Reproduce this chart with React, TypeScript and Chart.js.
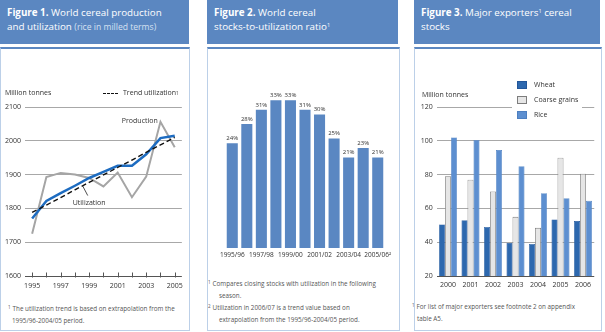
import React, { useEffect, useRef } from 'react';
import { Chart, registerables } from 'chart.js';

Chart.register(...registerables);

const FONT = "'Open Sans', sans-serif";

// ---------- Figure 1 data ----------
const years = ['1995', '1996', '1997', '1998', '1999', '2000', '2001', '2002', '2003', '2004', '2005'];
const production = [1725, 1893, 1905, 1900, 1890, 1865, 1906, 1833, 1894, 2056, 1981];
const utilization = [1770, 1822, 1845, 1867, 1890, 1908, 1926, 1926, 1960, 2008, 2015];
const trendUtilization = [1788, 1810, 1832, 1855, 1877, 1899, 1921, 1943, 1966, 1988, 2010];

// ---------- Figure 2 data ----------
const seasons = ['1995/96', '1996/97', '1997/98', '1998/99', '1999/00', '2000/01', '2001/02', '2002/03', '2003/04', '2004/05', '2005/06'];
const stockRatios = [24, 28, 31, 33, 33, 31, 30, 25, 21, 23, 21];

// ---------- Figure 3 data ----------
const exportYears = ['2000', '2001', '2002', '2003', '2004', '2005', '2006'];
const wheatStocks = [50.5, 53, 49, 39.5, 39, 53.5, 52.5];
const coarseStocks = [79, 77, 70, 55, 48.5, 90, 80.5];
const riceStocks = [102, 100.5, 94.5, 85, 69, 66, 64.5];

const HEADER_BLUE = '#5b87c1';
const BOX_BORDER = '#bcd0e8';
const TEXT = '#333333';
const NOTE = '#555555';
const GRID = '#a8a8a8';
const AXIS = '#555555';

const fig1Plugin = {
  id: 'fig1Annotations',
  afterDatasetsDraw(chart: any) {
    const { ctx, scales } = chart;
    const x = scales.x;
    const y = scales.y;
    ctx.save();
    // tick marks on the base line
    ctx.strokeStyle = AXIS;
    ctx.lineWidth = 1;
    const base = Math.round(y.getPixelForValue(1600)) + 0.5;
    years.forEach((_, i) => {
      const px = Math.round(x.getPixelForValue(i)) + 0.5;
      ctx.beginPath();
      ctx.moveTo(px, base - 4);
      ctx.lineTo(px, base + 1);
      ctx.stroke();
    });
    // series labels
    ctx.font = `7px ${FONT}`;
    ctx.fillStyle = TEXT;
    ctx.textAlign = 'center';
    ctx.textBaseline = 'middle';
    ctx.fillText('Production', x.getPixelForValue(7.55), y.getPixelForValue(2058));
    ctx.fillText('Utilization', x.getPixelForValue(4.0), y.getPixelForValue(1816));
    // leader line to utilization curve
    ctx.strokeStyle = '#222';
    ctx.lineWidth = 0.8;
    ctx.beginPath();
    ctx.moveTo(x.getPixelForValue(3.55), y.getPixelForValue(1866));
    ctx.lineTo(x.getPixelForValue(3.9), y.getPixelForValue(1838));
    ctx.stroke();
    ctx.restore();
  },
};

const fig2Plugin = {
  id: 'fig2Labels',
  afterDatasetsDraw(chart: any) {
    const { ctx } = chart;
    const meta = chart.getDatasetMeta(0);
    ctx.save();
    ctx.font = `6px ${FONT}`;
    ctx.fillStyle = TEXT;
    ctx.textAlign = 'center';
    ctx.textBaseline = 'bottom';
    meta.data.forEach((el: any, i: number) => {
      ctx.fillText(`${stockRatios[i]}%`, el.x, el.y - 2);
    });
    ctx.restore();
  },
};

export default function App() {
  const c1 = useRef<HTMLCanvasElement>(null);
  const c2 = useRef<HTMLCanvasElement>(null);
  const c3 = useRef<HTMLCanvasElement>(null);

  useEffect(() => {
    const tickFont = { family: FONT, size: 7 };
    const plain = (v: any) => `${v}`;
    const chart1 = new Chart(c1.current as HTMLCanvasElement, {
      type: 'line',
      data: {
        labels: years,
        datasets: [
          { label: 'Production', data: production, borderColor: '#a5a5a5', borderWidth: 2, pointRadius: 0, tension: 0, order: 3 },
          { label: 'Utilization', data: utilization, borderColor: '#1d6cc1', borderWidth: 2.5, pointRadius: 0, tension: 0, order: 2 },
          { label: 'Trend utilization', data: trendUtilization, borderColor: '#111111', borderWidth: 1.4, borderDash: [5, 3], pointRadius: 0, tension: 0, order: 1 },
        ],
      },
      options: {
        responsive: false,
        animation: false,
        layout: { padding: { top: 59, right: 6, left: 0, bottom: 0 } },
        plugins: { legend: { display: false }, tooltip: { enabled: false } },
        scales: {
          x: {
            offset: true,
            grid: { display: false, drawTicks: false },
            border: { display: false },
            ticks: {
              autoSkip: false,
              maxRotation: 0,
              padding: 6,
              color: TEXT,
              font: tickFont,
              callback: (_v: any, i: number) => (i % 2 === 0 ? years[i] : ''),
            },
            afterFit: (s: any) => { s.height = 24; },
          },
          y: {
            min: 1600,
            max: 2100,
            ticks: { stepSize: 100, padding: 4, color: TEXT, font: tickFont, callback: plain },
            grid: { drawTicks: false, color: (c: any) => (c.tick && c.tick.value === 1600 ? AXIS : GRID) },
            border: { display: false },
            afterFit: (s: any) => { s.width = 25; },
          },
        },
      } as any,
      plugins: [fig1Plugin],
    });

    const chart2 = new Chart(c2.current as HTMLCanvasElement, {
      type: 'bar',
      data: {
        labels: seasons,
        datasets: [{ data: stockRatios, backgroundColor: '#5a87c2', barPercentage: 0.76, categoryPercentage: 1 }],
      },
      options: {
        responsive: false,
        animation: false,
        layout: { padding: { top: 38, left: 18, right: 14, bottom: 0 } },
        plugins: { legend: { display: false }, tooltip: { enabled: false } },
        scales: {
          x: {
            grid: { display: false, drawTicks: false },
            border: { display: false },
            ticks: {
              autoSkip: false,
              maxRotation: 0,
              padding: 3,
              color: TEXT,
              font: { family: FONT, size: 6.5 },
              callback: (_v: any, i: number) =>
                i % 2 === 0 ? (i === seasons.length - 1 ? seasons[i] + '²' : seasons[i]) : '',
            },
            afterFit: (s: any) => { s.height = 20; },
          },
          y: { display: false, min: 2, max: 36 },
        },
      } as any,
      plugins: [fig2Plugin],
    });

    const chart3 = new Chart(c3.current as HTMLCanvasElement, {
      type: 'bar',
      data: {
        labels: exportYears,
        datasets: [
          { label: 'Wheat', data: wheatStocks, backgroundColor: '#2d68ae', borderColor: '#22569a', borderWidth: 0.6, categoryPercentage: 0.8, barPercentage: 1 },
          { label: 'Coarse grains', data: coarseStocks, backgroundColor: '#e6e6e6', borderColor: '#7d7d7d', borderWidth: 0.8, categoryPercentage: 0.8, barPercentage: 1 },
          { label: 'Rice', data: riceStocks, backgroundColor: '#5d8fd0', borderColor: '#4d7fc0', borderWidth: 0.6, categoryPercentage: 0.8, barPercentage: 1 },
        ],
      },
      options: {
        responsive: false,
        animation: false,
        layout: { padding: { top: 59, right: 5.75, left: 0, bottom: 0 } },
        plugins: { legend: { display: false }, tooltip: { enabled: false } },
        scales: {
          x: {
            grid: { display: false, drawTicks: false },
            border: { display: false },
            ticks: { autoSkip: false, maxRotation: 0, padding: 5, color: TEXT, font: tickFont },
            afterFit: (s: any) => { s.height = 24; },
          },
          y: {
            min: 20,
            max: 120,
            ticks: { stepSize: 20, padding: 4, color: TEXT, font: tickFont, callback: plain },
            grid: { drawTicks: false, color: (c: any) => (c.tick && c.tick.value === 20 ? AXIS : GRID) },
            border: { display: false },
            afterFit: (s: any) => { s.width = 22.75; },
          },
        },
      } as any,
    });

    return () => {
      chart1.destroy();
      chart2.destroy();
      chart3.destroy();
    };
  }, []);

  const abs = (left: number, top: number, width: number, height: number): React.CSSProperties => ({
    position: 'absolute', left, top, width, height,
  });
  const header: React.CSSProperties = {
    background: HEADER_BLUE, color: '#ffffff', fontFamily: FONT, fontSize: 9.8,
    lineHeight: '14px', padding: '6px 7px', boxSizing: 'border-box', whiteSpace: 'nowrap',
  };
  const box: React.CSSProperties = {
    boxSizing: 'border-box', border: `1px solid ${BOX_BORDER}`, borderTop: `2px solid ${HEADER_BLUE}`, background: '#fff',
  };
  const small: React.CSSProperties = { fontFamily: FONT, fontSize: 7, color: TEXT, whiteSpace: 'nowrap', lineHeight: '10px' };
  const note: React.CSSProperties = { fontFamily: FONT, fontSize: 6.3, color: NOTE, whiteSpace: 'nowrap', lineHeight: '12px' };
  const sup: React.CSSProperties = { fontSize: 4.5, verticalAlign: 'top', lineHeight: '8px', marginRight: 2 };

  return (
    <div style={{ position: 'absolute', left: 0, top: 0, width: 605, height: 332, background: '#fff', overflow: 'hidden' }}>
      {/* Panel 1 */}
      <div style={{ ...abs(0, 0, 189, 44), ...header }}>
        <b>Figure 1.</b> World cereal production<br />
        and utilization <span style={{ fontSize: 8.6, color: '#d6e1f1' }}>(rice in milled terms)</span>
      </div>
      <div style={{ ...abs(0, 47, 190, 284), ...box }} />
      <canvas ref={c1} width={189} height={252} style={{ ...abs(0, 48, 189, 252) }} />
      <div style={{ ...abs(5, 88, 60, 10), ...small }}>Million tonnes</div>
      <div style={{ ...abs(103, 88, 85, 10), ...small, display: 'flex', alignItems: 'center' }}>
        <span style={{ display: 'inline-block', width: 15, borderTop: '1.5px dashed #111', marginRight: 5 }} />
        Trend utilization<span style={{ fontSize: 4.5, verticalAlign: 'top', lineHeight: '6px' }}>1</span>
      </div>
      <div style={{ ...abs(8, 303, 182, 26), ...note }}>
        <span style={sup}>1</span>The utilization trend is based on extrapolation from the<br />
        <span style={{ paddingLeft: 4 }}>1995/96-2004/05 period.</span>
      </div>

      {/* Panel 2 */}
      <div style={{ ...abs(207, 0, 191, 44), ...header }}>
        <b>Figure 2.</b> World cereal<br />
        stocks-to-utilization ratio<span style={{ fontSize: 5.5, verticalAlign: 'top', lineHeight: '10px' }}>1</span>
      </div>
      <div style={{ ...abs(207, 47, 193, 284), ...box }} />
      <canvas ref={c2} width={192} height={220} style={{ ...abs(207, 48, 192, 220) }} />
      <div style={{ ...abs(208, 278, 192, 50), ...note }}>
        <span style={sup}>1</span>Compares closing stocks with utilization in the following<br />
        <span style={{ paddingLeft: 11 }}>season.</span><br />
        <span style={sup}>2</span>Utilization in 2006/07 is a trend value based on<br />
        <span style={{ paddingLeft: 11 }}>extrapolation from the 1995/96-2004/05 period.</span>
      </div>

      {/* Panel 3 */}
      <div style={{ ...abs(414, 0, 186, 44), ...header }}>
        <b>Figure 3.</b> Major exporters<span style={{ fontSize: 5.5, verticalAlign: 'top', lineHeight: '10px' }}>1</span> cereal<br />
        stocks
      </div>
      <div style={{ ...abs(414, 47, 188, 284), ...box }} />
      <canvas ref={c3} width={186} height={252} style={{ ...abs(414, 48, 186, 252) }} />
      <div style={{ ...abs(422, 90, 60, 10), ...small }}>Million tonnes</div>
      <div style={{ ...abs(512, 76, 70, 46), background: '#fff' }}>
        {[
          { name: 'Wheat', fill: '#2d68ae', border: '#22569a' },
          { name: 'Coarse grains', fill: '#e6e6e6', border: '#7d7d7d' },
          { name: 'Rice', fill: '#5d8fd0', border: '#4d7fc0' },
        ].map((item, i) => (
          <div key={item.name} style={{ position: 'absolute', left: 5, top: 4 + i * 15, display: 'flex', alignItems: 'center', ...small }}>
            <span style={{ display: 'inline-block', width: 10, height: 8, background: item.fill, border: `1px solid ${item.border}`, boxSizing: 'border-box', marginRight: 7 }} />
            {item.name}
          </div>
        ))}
      </div>
      <div style={{ ...abs(412, 301, 190, 26), ...note }}>
        <span style={sup}>1</span>For list of major exporters see footnote 2 on appendix<br />
        <span style={{ paddingLeft: 5 }}>table A5.</span>
      </div>
    </div>
  );
}
